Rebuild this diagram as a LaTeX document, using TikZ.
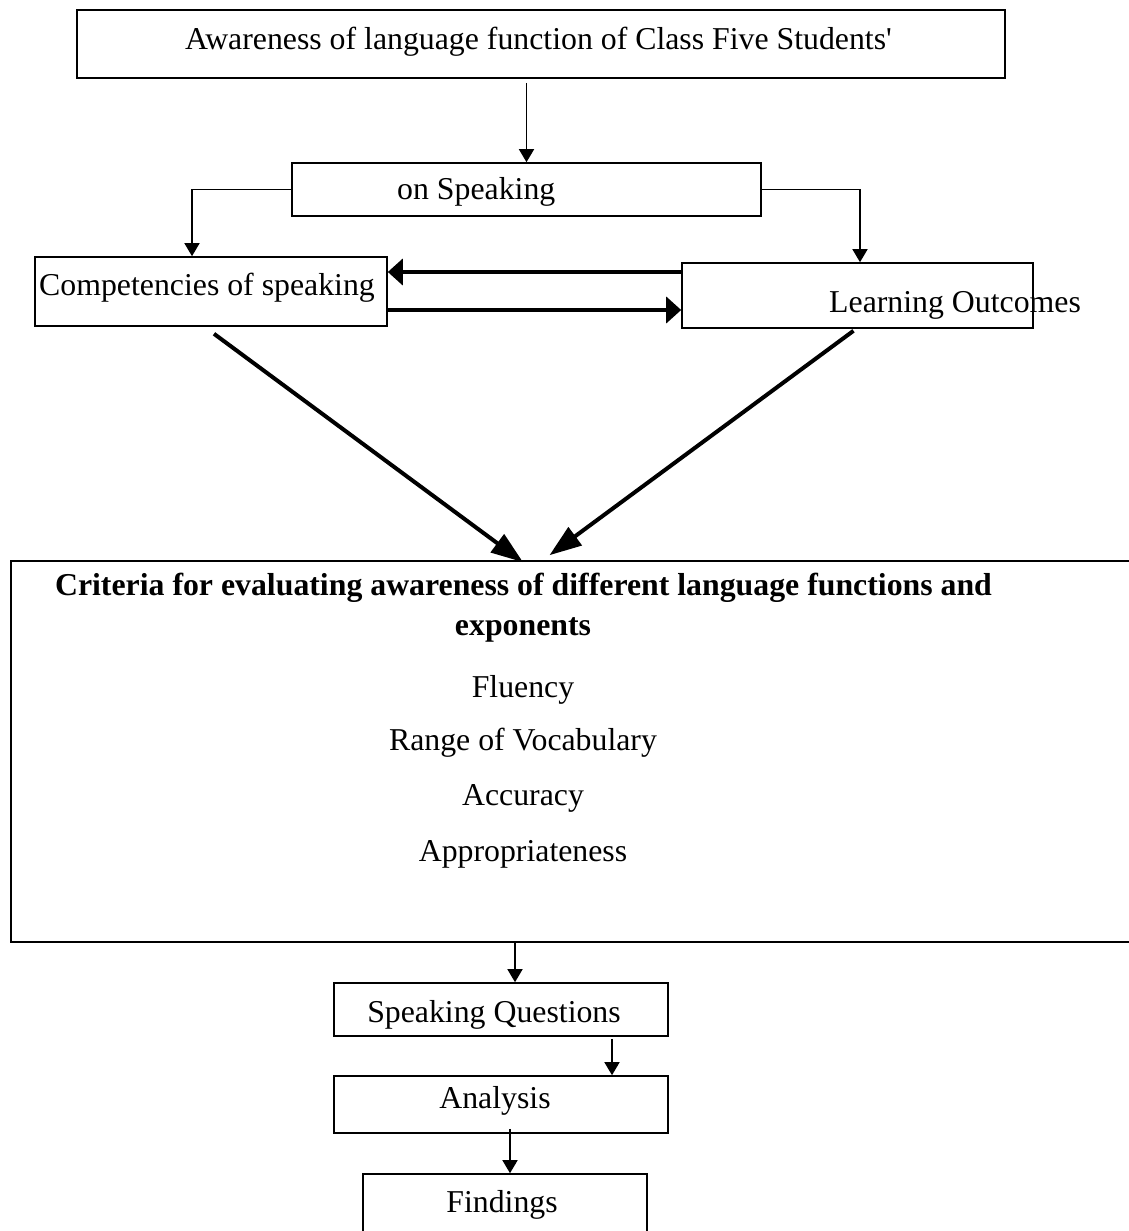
\documentclass[tikz,border=0pt]{standalone}
\usepackage{fontspec}
\setmainfont{Liberation Serif}[Ligatures=TeXOff]
\usetikzlibrary{arrows.meta}
\begin{document}
\begin{tikzpicture}[x=1pt,y=-1pt,
  box/.style={draw, line width=1.6pt, inner sep=0pt, fill=none},
  txt/.style={inner sep=0pt, font=\fontsize{31.8}{38}\selectfont},
  btxt/.style={inner sep=0pt, font=\fontsize{31.8}{38}\selectfont\bfseries},
  thin/.style={line width=1.5pt, -{Triangle[length=13pt,width=15pt]}},
  thk/.style={line width=4pt, -{Triangle[length=15pt,width=26pt]}},
  diag/.style={line width=4pt, -{Triangle[length=32pt,width=22pt]}}]
\useasboundingbox (0,0) rectangle (1128,1231);
\fill[white] (0,0) rectangle (1128,1231);
% boxes
\node[box, minimum width=928pt, minimum height=68pt] (top) at (541,44) {};
\node[box, minimum width=469pt, minimum height=53pt] (spk) at (526.5,189.5) {};
\node[box, minimum width=352pt, minimum height=69pt] (comp) at (211,291.5) {};
\node[box, minimum width=351pt, minimum height=65pt] (lo) at (857.5,295.5) {};
\node[box, minimum width=1129pt, minimum height=381pt] (crit) at (575.5,751.5) {};
\node[box, minimum width=334pt, minimum height=53pt] (sq) at (501,1009.5) {};
\node[box, minimum width=334pt, minimum height=57pt] (an) at (501,1104.5) {};
\node[box, minimum width=284pt, minimum height=86pt] (fi) at (505,1217) {};
% texts
\node[txt, anchor=base west] (ttop) at (185,50) {Awareness of language function of Class Five Students'};
\node[txt, anchor=base west] (tspk) at (397,199) {on Speaking};
\node[txt, anchor=base west] (tcomp) at (39,295) {Competencies of speaking};
\node[txt, anchor=base west] (tlo) at (829,312) {Learning Outcomes};
\node[btxt, anchor=base] (c1) at (523.5,595) {Criteria for evaluating awareness of different language functions and};
\node[btxt, anchor=base] (c2) at (523,635) {exponents};
\node[txt, anchor=base] (c3) at (523,697) {Fluency};
\node[txt, anchor=base] (c4) at (523,750) {Range of Vocabulary};
\node[txt, anchor=base] (c5) at (523,805) {Accuracy};
\node[txt, anchor=base] (c6) at (523,861) {Appropriateness};
\node[txt, anchor=base] (tsq) at (494,1022) {Speaking Questions};
\node[txt, anchor=base] (tan) at (495,1108) {Analysis};
\node[txt, anchor=base] (tfi) at (502,1212) {Findings};
% connectors
\coordinate (a0) at ([yshift=-4pt]top.south -| spk.north);
\draw[thin] (a0) -- (spk.north);
\coordinate (lc) at ([xshift=-19pt]comp.north);
\draw[thin] (spk.west) -| (lc);
\draw[thin] (spk.east) -| ([xshift=2.5pt]lo.north);
\coordinate (a1) at ([yshift=23.5pt]lo.west);
\draw[thk] (a1) -- (a1 -| comp.east);
\coordinate (a2) at ([yshift=-18.5pt]comp.east);
\draw[thk] (a2) -- (a2 -| lo.west);
\coordinate (d1) at ([xshift=3pt,yshift=-7pt]comp.south);
\coordinate (d1e) at ([xshift=-52.5pt,yshift=-2pt]crit.north);
\draw[diag] (d1) -- (d1e);
\coordinate (d2) at ([xshift=-4pt,yshift=-2pt]lo.south);
\coordinate (d2e) at ([xshift=-26pt,yshift=5pt]crit.north);
\draw[diag] (d2) -- (d2e);
\coordinate (b1) at ([xshift=14pt]sq.north);
\draw[thin] (b1 |- crit.south) -- (b1);
\coordinate (b2) at ([xshift=111pt,yshift=-2pt]sq.south);
\draw[thin] (b2) -- (b2 |- an.north);
\coordinate (b3) at ([xshift=9pt,yshift=5pt]an.south);
\draw[thin] (b3) -- (b3 |- fi.north);
\end{tikzpicture}
\end{document}
